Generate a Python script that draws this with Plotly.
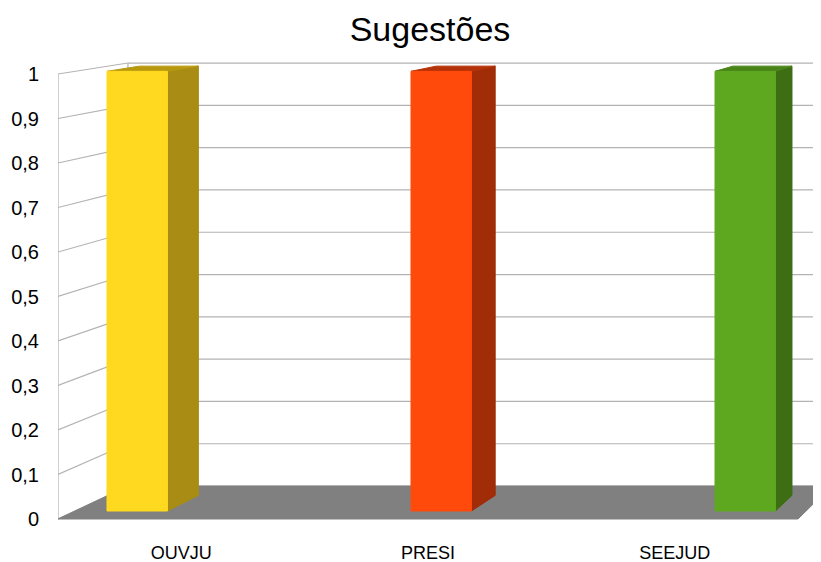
import plotly.graph_objects as go

# data
categorias = ["OUVJU", "PRESI", "SEEJUD"]
valores = [1, 1, 1]
y_ticks = [0, 0.1, 0.2, 0.3, 0.4, 0.5, 0.6, 0.7, 0.8, 0.9, 1]

cor_frente = ["#FFD920", "#FF4A0C", "#5EA820"]
cor_lado = ["#A88C14", "#A02C08", "#3E6E14"]
cor_topo = ["#B8980F", "#B43208", "#4A8418"]

# fake 3d: points move toward a vanishing point as depth grows
XV, VV = 5.2405, 1.4989
F_WALL = 0.0494
F1, F2 = 0.012, 0.0354
BAR_X0, BAR_PASSO, BAR_W = -0.3687, 1.2474, 0.248
X_MIN, X_MAX = -0.5, 2.5
GRID = "#b3b3b3"

# the page body adds 8px around the figure
W, H, BODY = 821, 562, 8


def proj(x, v, f):
    return x + f * (XV - x), v + f * (VV - v)


def poly(pts):
    xs = [p[0] for p in pts] + [pts[0][0]]
    ys = [p[1] for p in pts] + [pts[0][1]]
    return xs, ys


fig = go.Figure()


def add_fill(pts, cor, linha=None):
    xs, ys = poly(pts)
    fig.add_trace(go.Scatter(x=xs, y=ys, mode="lines", fill="toself",
                             fillcolor=cor, line=dict(color=linha or cor, width=1),
                             hoverinfo="skip", showlegend=False))


def add_line(p, q, cor=GRID):
    fig.add_trace(go.Scatter(x=[p[0], q[0]], y=[p[1], q[1]], mode="lines",
                             line=dict(color=cor, width=1.2),
                             hoverinfo="skip", showlegend=False))


topo = max(y_ticks)

# paredes
for v in y_ticks:
    add_line(proj(X_MIN, v, 0), proj(X_MIN, v, F_WALL))
    add_line(proj(X_MIN, v, F_WALL), proj(X_MAX + 0.3, v, F_WALL))
add_line(proj(X_MIN, 0, 0), proj(X_MIN, topo, 0))
add_line(proj(X_MIN, 0, F_WALL), proj(X_MIN, topo, F_WALL))

# chao
add_fill([proj(X_MIN, 0, 0), proj(X_MAX, 0, 0), proj(X_MAX, 0, F_WALL),
          proj(X_MIN, 0, F_WALL)], "#808080")

# barras
for i, val in enumerate(valores):
    x0 = BAR_X0 + BAR_PASSO * i
    x1 = x0 + BAR_W
    add_fill([proj(x1, 0, F1), proj(x1, 0, F2), proj(x1, val, F2), proj(x1, val, F1)],
             cor_lado[i])
    add_fill([proj(x0, val, F1), proj(x1, val, F1), proj(x1, val, F2), proj(x0, val, F2)],
             cor_topo[i])
    add_fill([proj(x0, 0, F1), proj(x1, 0, F1), proj(x1, val, F1), proj(x0, val, F1)],
             cor_frente[i])

fig.update_layout(
    width=W - BODY, height=H - BODY,
    margin=dict(l=58 - BODY, r=0, t=40 - BODY, b=22),
    paper_bgcolor="white", plot_bgcolor="white",
    separators=", ",
    font=dict(family="Liberation Sans, Arial, sans-serif", size=19, color="#000000"),
    title=dict(text="Sugestões", x=(430 - BODY) / (W - BODY),
               y=1 - (29 - BODY) / (H - BODY), xref="container",
               yref="container", xanchor="center", yanchor="middle",
               font=dict(size=34, color="#000000")),
    xaxis=dict(range=[-0.5, 2.5932], tickvals=[0, 1, 2], ticktext=categorias,
               showgrid=False, zeroline=False, showline=False, automargin=False,
               ticks="", tickfont=dict(size=18)),
    yaxis=dict(range=[-21 / 445, 479 / 445], tickvals=y_ticks,
               showgrid=False, zeroline=False, showline=False, automargin=False,
               ticks="outside", ticklen=14, tickcolor="rgba(0,0,0,0)",
               tickfont=dict(size=20)),
)

fig.write_html("out.html")
